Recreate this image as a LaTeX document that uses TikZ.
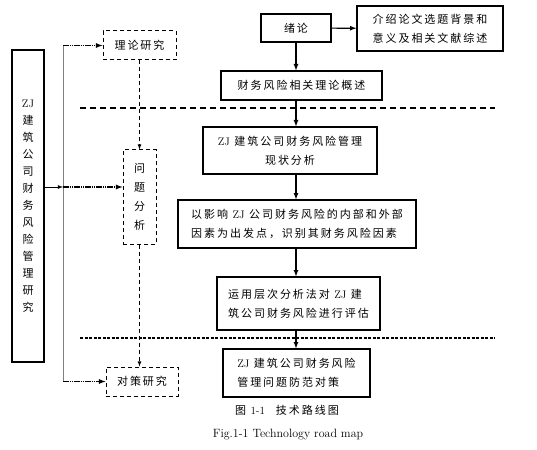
\documentclass[tikz,border=0pt]{standalone}
\usepackage{fontspec}
\newfontfamily\cjk[LetterSpace=18]{Noto Sans CJK SC}
\newfontfamily\cjkv{Noto Sans CJK SC}
\usetikzlibrary{arrows,calc,positioning}
\newcommand\zj{{\rmfamily ZJ}}
\begin{document}
\begin{tikzpicture}[x=1pt,y=-1pt,>=latex,
  box/.style={draw,line width=1.2pt,inner sep=0pt,font=\cjk\fontsize{11}{19}\selectfont},
  dbox/.style={draw,dash pattern=on 4pt off 3pt,line width=1pt,inner sep=0pt,font=\cjk\fontsize{11}{19}\selectfont},
  arr/.style={->,line width=1.2pt},
  darr/.style={->,dash pattern=on 4pt off 3pt,line width=0.8pt},
  dotarr/.style={->,dash pattern=on 1.5pt off 0.7pt,line width=1.3pt},
  sepa/.style={dash pattern=on 6pt off 4pt,line width=1.5pt},
  sepb/.style={dash pattern=on 3pt off 1.5pt,line width=1.8pt}]
\useasboundingbox (0,0) rectangle (537,449);
% left column
\node[box,minimum width=32,minimum height=312,align=center,font=\cjkv\fontsize{11}{17}\selectfont] (zj) at (28,206) {\zj\\建\\筑\\公\\司\\财\\务\\风\\险\\管\\理\\研\\究};
\node[dbox,minimum width=73,minimum height=29] (lilun) at (139.5,45.5) {理论研究};
\node[dbox,minimum width=33,minimum height=94,align=center,font=\cjkv\fontsize{11}{19}\selectfont] (wenti) at (139.5,197) {问\\题\\分\\析};
\node[dbox,minimum width=72,minimum height=29] (duice) at (142,381.5) {对策研究};
% right column
\node[box,minimum width=70,minimum height=28] (xulun) at (296,28) {绪论};
\node[box,minimum width=146,minimum height=45,align=center] (jieshao) at (430,28.5) {介绍论文选题背景和\\意义及相关文献综述};
\node[box,minimum width=161,minimum height=29] (gaishu) at (301.5,85.5) {财务风险相关理论概述};
\node[box,minimum width=174,minimum height=47,align=center] (xianzhuang) at (290,150.5) {\zj\ 建筑公司财务风险管理\\现状分析};
\node[box,minimum width=238,minimum height=48,align=left] (yingxiang) at (297,224) {以影响 \zj\ 公司财务风险的内部和外部\\因素为出发点，识别其财务风险因素};
\node[box,minimum width=163,minimum height=53,align=left] (yunyong) at (298.5,303.5) {运用层次分析法对 \zj\ 建\\筑公司财务风险进行评估};
\node[box,minimum width=147,minimum height=48,align=left] (fangfan) at (296.5,373) {\zj\ 建筑公司财务风险\\管理问题防范对策};
% captions
\node[font=\cjk\fontsize{11}{13}\selectfont] (captzh) at (287,410) {图 {\rmfamily 1-1}\quad 技术路线图};
\node[font=\fontsize{12}{14}\selectfont] (capten) at (288,435) {Fig.1-1 Technology road map};
% separators
\coordinate (s1l) at (80,108);
\coordinate (s1r) at (495,108);
\coordinate (s2l) at (80,338);
\coordinate (s2r) at (495,338);
\draw[sepa] (s1l) -- (s1r);
\draw[sepb] (s2l) -- (s2r);
% main flow
\coordinate (ax) at (296,0);
\draw[arr] (xulun) -- (jieshao);
\draw[arr] (xulun.south) -- (xulun.south |- gaishu.north);
\draw[arr] (ax |- gaishu.south) -- (ax |- xianzhuang.north);
\draw[arr] (ax |- xianzhuang.south) -- (ax |- yingxiang.north);
\draw[arr] (ax |- yingxiang.south) -- (ax |- yunyong.north);
\draw[arr] (ax |- yunyong.south) -- (ax |- fangfan.north);
% left flow
\coordinate (br) at (63,187);
\draw[->,line width=0.8pt] (zj.east |- br) -- (br);
\draw[line width=0.8pt,gray] (br |- lilun) -- (br |- duice);
\draw[dotarr] (br |- lilun) -- (lilun);
\draw[dotarr] (br) -- (wenti.west |- br);
\draw[dotarr] (br |- duice) -- (duice);
\draw[darr] (lilun) -- (wenti);
\draw[darr] (wenti.south) -- (wenti.south |- duice.north);
\end{tikzpicture}
\end{document}
